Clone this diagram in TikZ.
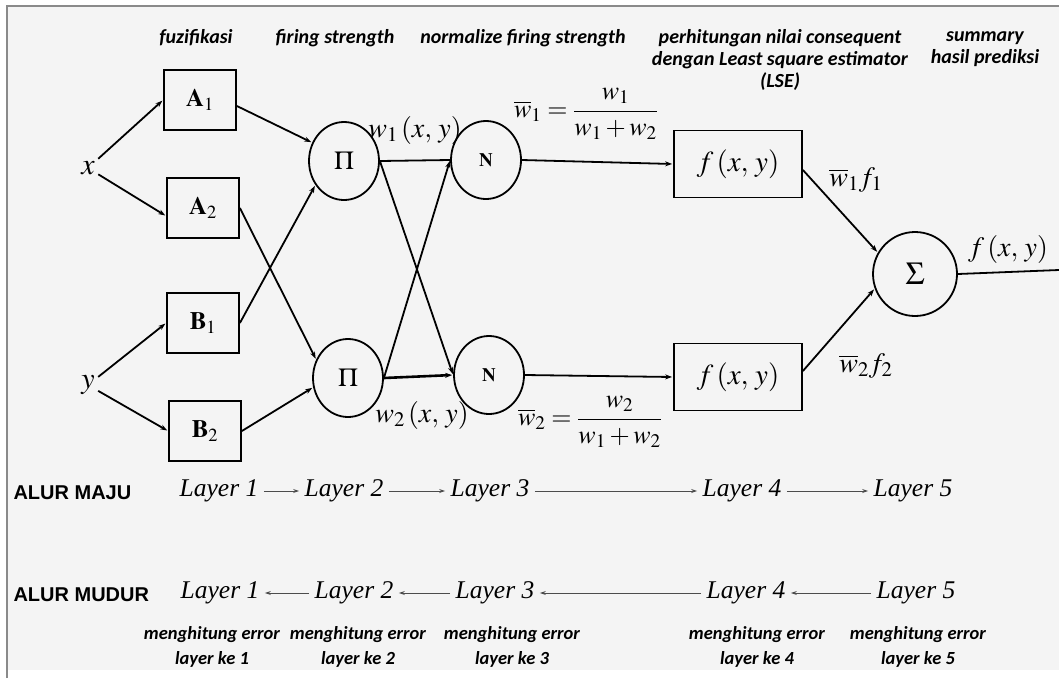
\documentclass[tikz,border=0pt]{standalone}
\usepackage{mathptmx}
\usepackage{amsmath}
\usepackage{fontspec}
\setmainfont{Liberation Serif}
\newfontfamily\notefont{Carlito}
\newfontfamily\alurfont{Liberation Sans}
\usepackage{xcolor}
\usepackage{tikz}
\usetikzlibrary{arrows.meta,calc,positioning,shapes.geometric}

\definecolor{sheetgray}{HTML}{F4F4F4}
\definecolor{framegray}{HTML}{8A8A8A}

\begin{document}
\begin{tikzpicture}[x=1pt,y=-1pt,
  fuzzybox/.style={draw,line width=1.8pt,minimum width=72pt,minimum height=60pt,font=\fontsize{25}{28}\selectfont},
  rulenode/.style={draw,ellipse,line width=1.8pt,minimum width=70pt,minimum height=78pt,inner sep=0pt,font=\fontsize{26}{28}\selectfont},
  funcbox/.style={draw,line width=1.8pt,minimum width=128pt,minimum height=67pt,font=\fontsize{29}{32}\selectfont},
  sumnode/.style={draw,circle,line width=1.8pt,minimum size=84pt,inner sep=0pt,font=\fontsize{32}{34}\selectfont},
  arrow/.style={-{Stealth[length=7pt,width=5pt]},line width=1.8pt,shorten >=1pt},
  link/.style={line width=1.8pt},
  flowarrow/.style={-{Stealth[length=6pt,width=4pt]},line width=0.9pt,draw=black!70,shorten <=2pt,shorten >=2pt},
  headnote/.style={font=\notefont\bfseries\itshape\fontsize{20}{22}\selectfont,align=center},
  errnote/.style={font=\notefont\bfseries\itshape\fontsize{18.5}{25}\selectfont,align=center},
  mathlabel/.style={font=\fontsize{28}{30}\selectfont},
  layer/.style={font=\fontsize{25.5}{28}\selectfont\itshape},
  alur/.style={font=\alurfont\bfseries\fontsize{20}{22}\selectfont,anchor=west}
]
\useasboundingbox (0,0) rectangle (1059,678);
\fill[sheetgray] (7,6) rectangle (1059,670);
\draw[framegray,line width=1.8pt] (7,678) -- (7,6) -- (1059,6);

% headings
\node[headnote] (hfuzzy) at (196,38) {fuzifikasi};
\node[headnote] (hfiring) at (335,38) {firing strength};
\node[headnote] (hnorm) at (523,38) {normalize firing strength};
\node[headnote] (hlse) at (780,60) {perhitungan nilai consequent\\dengan Least square estimator\\(LSE)};
\node[headnote] (hsum) at (985,49) {summary\\hasil prediksi};

% inputs
\node[mathlabel,font=\fontsize{30}{32}\selectfont] (x) at (88,168) {$x$};
\node[mathlabel,font=\fontsize{30}{32}\selectfont] (y) at (88,385) {$y$};

% layer 1
\node[fuzzybox] (A1) at (200,100) {$\mathbf{A}_1$};
\node[fuzzybox] (A2) at (203,208) {$\mathbf{A}_2$};
\node[fuzzybox] (B1) at (203,323) {$\mathbf{B}_1$};
\node[fuzzybox] (B2) at (205,431) {$\mathbf{B}_2$};

% layer 2 and 3
\node[rulenode] (P1) at (344,161) {$\Pi$};
\node[rulenode] (P2) at (348,378) {$\Pi$};
\node[rulenode,font=\fontsize{19}{20}\selectfont] (N1) at (486,160) {$\mathbf{N}$};
\node[rulenode,font=\fontsize{19}{20}\selectfont] (N2) at (489,375) {$\mathbf{N}$};

% layer 4 and 5
\node[funcbox] (F1) at (738,164) {$f\,(x,\,y)$};
\node[funcbox] (F2) at (738,377) {$f\,(x,\,y)$};
\node[sumnode] (S) at (915,274) {$\Sigma$};
\coordinate (out) at (1059,270);

\draw[arrow] (x) -- (A1.west);
\draw[arrow] (x) -- ([yshift=-8pt]A2.west);
\draw[arrow] (y) -- (B1.west);
\draw[arrow] (y) -- (B2.west);

\draw[arrow] ([yshift=-6pt]A1.east) -- (P1.150);
\draw[arrow] (A2.east) -- (P2.150);
\draw[arrow] (B1.east) -- (P1.220);
\draw[arrow] (B2.east) -- (P2.195);

\draw[link] (P1.east) -- (N1.west);
\draw[arrow] (P1.east) -- (N2.west);
\draw[arrow] (P2.east) -- (N1.west);
\draw[arrow,line width=2.6pt] (P2.east) -- (N2.west);

\draw[arrow] (N1.east) -- (F1.west);
\draw[arrow] (N2.east) -- (F2.west);
\draw[arrow] ([yshift=-6pt]F1.east) -- (S.150);
\draw[arrow] ([yshift=6pt]F2.east) -- (S.200);
\draw[link] (S.east) -- (out);

% labels
\node[mathlabel] (w1) at (415,130) {$w_1\,(x,\,y)$};
\node[mathlabel] (w2) at (422,415) {$w_2\,(x,\,y)$};
\node[mathlabel,font=\fontsize{26}{28}\selectfont] (nw1) at (586,114) {$\overline{w}_1=\dfrac{w_1}{w_1+w_2}$};
\node[mathlabel,font=\fontsize{26}{28}\selectfont] (nw2) at (590,422) {$\overline{w}_2=\dfrac{w_2}{w_1+w_2}$};
\node[mathlabel] (wf1) at (856,180) {$\overline{w}_1 f_1$};
\node[mathlabel] (wf2) at (866,366) {$\overline{w}_2 f_2$};
\node[mathlabel] (fout) at (1008,249) {$f\,(x,\,y)$};

% alur maju
\node[alur] (maju) at (10,493) {ALUR MAJU};
\node[layer] (L1f) at (219,491) {Layer 1};
\node[layer] (L2f) at (344,491) {Layer 2};
\node[layer] (L3f) at (490,491) {Layer 3};
\node[layer] (L4f) at (742,491) {Layer 4};
\node[layer] (L5f) at (913,491) {Layer 5};
\draw[flowarrow] (L1f) -- (L2f);
\draw[flowarrow] (L2f) -- (L3f);
\draw[flowarrow] (L3f) -- (L4f);
\draw[flowarrow] (L4f) -- (L5f);

% alur mudur
\node[alur] (mudur) at (10,595) {ALUR MUDUR};
\node[layer] (L1b) at (220,593) {Layer 1};
\node[layer] (L2b) at (354,593) {Layer 2};
\node[layer] (L3b) at (495,593) {Layer 3};
\node[layer] (L4b) at (746,593) {Layer 4};
\node[layer] (L5b) at (916,593) {Layer 5};
\draw[flowarrow] (L2b) -- (L1b);
\draw[flowarrow] (L3b) -- (L2b);
\draw[flowarrow] (L4b) -- (L3b);
\draw[flowarrow] (L5b) -- (L4b);

\node[errnote] (E1) at (212,647) {menghitung error\\layer ke 1};
\node[errnote] (E2) at (358,647) {menghitung error\\layer ke 2};
\node[errnote] (E3) at (512,647) {menghitung error\\layer ke 3};
\node[errnote] (E4) at (757,647) {menghitung error\\layer ke 4};
\node[errnote] (E5) at (918,647) {menghitung error\\layer ke 5};
\end{tikzpicture}
\end{document}
